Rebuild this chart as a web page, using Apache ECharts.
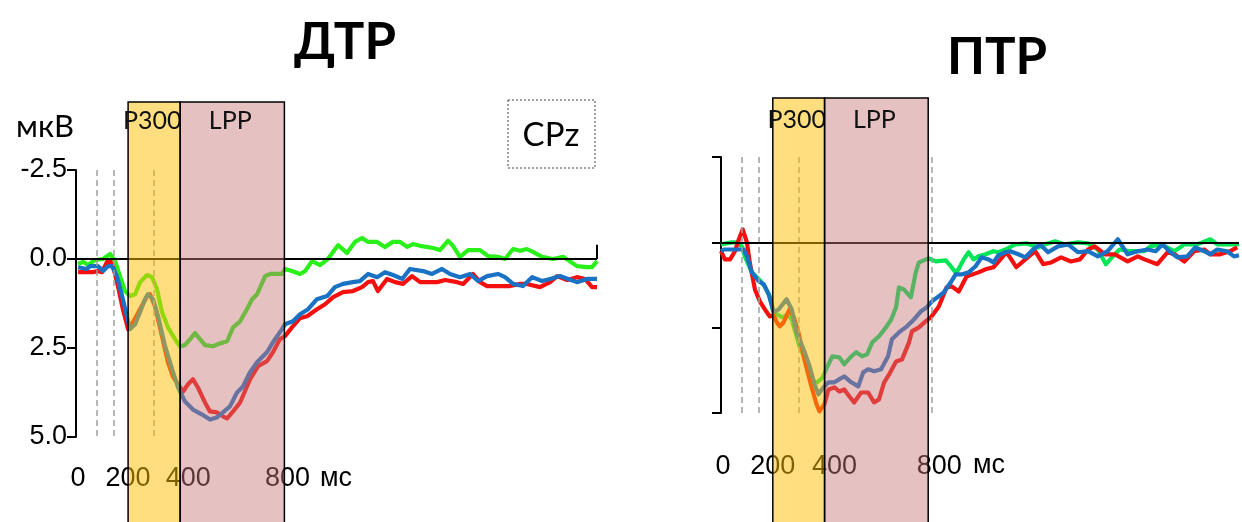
<!DOCTYPE html>
<html><head><meta charset="utf-8">
<script src="https://cdn.jsdelivr.net/npm/echarts@6/dist/echarts.min.js"></script>
<style>html,body{margin:0;padding:0;background:#fff}#c{width:1242px;height:522px}</style>
</head><body><div id="c"></div>
<script>
// ---- data (time in ms, amplitude in µV; negative plotted upward) ----
const panelTitles = ['ДТР', 'ПТР'];
const xTickLabels = [0, 200, 400, 800];
const yTickValues = [-2.5, 0, 2.5, 5];
const windowNames = ['P300', 'LPP'];
const windowFrom = [200, 400];
const windowTo = [400, 800];
const dashedLeft = [80, 145, 300];
const dashedRight = [80, 145, 300, 815];

const leftGreen = [[8,0.14],[27,0.08],[46,0.17],[73,0.03],[104,0.0],[131,-0.14],[150,0.06],[169,0.48],[188,0.90],[207,1.04],[227,0.99],[246,0.65],[273,0.45],[292,0.51],[311,0.85],[330,1.49],[353,1.92],[380,2.25],[399,2.45],[418,2.42],[438,2.25],[457,2.08],[476,2.25],[495,2.42],[526,2.45],[553,2.37],[580,2.31],[603,1.92],[630,1.75],[656,1.41],[676,1.13],[695,0.99],[726,0.48],[745,0.42],[791,0.42],[802,0.28],[829,0.34],[860,0.42],[879,0.34],[906,0.06],[937,0.17],[967,0.0],[1006,-0.39],[1040,-0.17],[1071,-0.48],[1098,-0.59],[1121,-0.48],[1156,-0.48],[1186,-0.34],[1217,-0.48],[1244,-0.48],[1271,-0.34],[1294,-0.42],[1321,-0.37],[1371,-0.31],[1397,-0.25],[1428,-0.51],[1447,-0.37],[1474,-0.06],[1505,-0.25],[1551,-0.25],[1582,-0.08],[1620,-0.06],[1647,0.0],[1678,-0.28],[1705,-0.23],[1731,-0.28],[1754,-0.20],[1789,-0.06],[1831,0.0],[1870,-0.06],[1889,0.03],[1923,0.20],[1962,0.23],[1981,0.23],[2000,0.06]];
const leftRed = [[8,0.37],[65,0.37],[84,0.34],[100,0.37],[119,0.08],[131,0.06],[142,0.20],[161,0.76],[180,1.41],[200,1.97],[219,1.77],[246,1.41],[273,1.04],[284,0.99],[303,1.32],[330,2.17],[353,2.90],[372,3.30],[392,3.52],[411,3.72],[430,3.52],[449,3.38],[468,3.61],[495,4.03],[514,4.28],[541,4.31],[564,4.42],[580,4.48],[603,4.28],[630,4.03],[668,3.38],[699,3.01],[733,2.87],[756,2.62],[783,2.25],[802,2.17],[829,1.92],[860,1.66],[887,1.61],[925,1.41],[956,1.27],[987,1.07],[1025,0.93],[1063,0.90],[1098,0.79],[1121,0.65],[1140,0.62],[1159,0.90],[1194,0.56],[1225,0.65],[1255,0.70],[1290,0.48],[1321,0.65],[1386,0.65],[1417,0.59],[1463,0.65],[1486,0.70],[1524,0.42],[1551,0.65],[1578,0.76],[1666,0.76],[1705,0.70],[1731,0.70],[1781,0.79],[1820,0.65],[1847,0.48],[1885,0.59],[1923,0.51],[1954,0.56],[1981,0.79],[2000,0.79]];
const leftBlue = [[8,0.23],[42,0.28],[54,0.20],[84,0.20],[104,0.34],[123,0.20],[138,0.20],[157,0.48],[177,1.04],[196,1.63],[207,1.97],[227,1.83],[246,1.49],[265,1.13],[276,0.99],[296,1.13],[315,1.61],[342,2.45],[369,3.10],[392,3.61],[418,4.00],[449,4.23],[484,4.37],[514,4.51],[541,4.45],[564,4.31],[591,4.14],[618,3.75],[641,3.58],[668,3.18],[695,2.90],[733,2.62],[756,2.34],[791,1.97],[802,1.83],[833,1.75],[860,1.55],[891,1.41],[925,1.13],[964,1.04],[994,0.79],[1025,0.70],[1063,0.65],[1090,0.62],[1121,0.42],[1156,0.51],[1186,0.37],[1217,0.45],[1252,0.56],[1282,0.28],[1332,0.34],[1367,0.42],[1405,0.28],[1436,0.42],[1474,0.51],[1513,0.42],[1543,0.62],[1578,0.48],[1620,0.42],[1647,0.51],[1678,0.70],[1716,0.76],[1751,0.51],[1789,0.62],[1820,0.56],[1858,0.48],[1889,0.56],[1923,0.65],[1962,0.56],[2000,0.56]];

const rightGreen = [[0,0.06],[42,0],[61,0],[81,0.12],[92,0.41],[119,0.88],[146,1.08],[169,1.29],[188,1.58],[203,2.05],[215,2.11],[238,2.2],[257,2.11],[273,2.26],[303,3.05],[334,3.57],[353,4.07],[372,4.1],[392,3.96],[411,3.63],[430,3.34],[457,3.37],[476,3.57],[503,3.34],[522,3.22],[545,3.34],[564,3.28],[584,2.93],[610,2.75],[637,2.49],[657,2.26],[676,1.9],[687,1.32],[706,1.38],[733,1.61],[752,0.88],[764,0.59],[783,0.53],[802,0.47],[829,0.56],[868,0.53],[887,0.7],[906,0.88],[917,0.79],[937,0.5],[956,0.29],[975,0.5],[994,0.41],[1021,0.35],[1052,0.26],[1071,0.29],[1098,0.21],[1136,0.06],[1179,0.03],[1225,0.15],[1251,0.06],[1290,-0.03],[1328,0.06],[1378,0],[1417,0.03],[1455,0.21],[1486,0.64],[1513,0.41],[1539,0.21],[1582,0.26],[1635,0.26],[1658,0.12],[1697,0.06],[1751,0.26],[1789,0.06],[1839,0.06],[1889,-0.09],[1916,0.06],[1966,0.06],[2000,0.06]];
const rightRed = [[0,0.26],[15,0.5],[35,0.5],[54,0.26],[69,-0.09],[84,-0.38],[100,0],[111,0.59],[131,1.38],[150,1.73],[169,1.96],[188,2.17],[203,2.14],[215,2.34],[227,2.46],[242,2.34],[265,1.96],[280,2.17],[299,2.64],[322,3.43],[349,4.22],[369,4.75],[380,4.95],[399,4.75],[415,4.31],[438,4.25],[457,4.37],[476,4.31],[495,4.51],[514,4.69],[541,4.4],[568,4.4],[591,4.69],[610,4.6],[630,4.1],[649,3.87],[676,3.49],[699,3.43],[726,2.93],[737,2.61],[764,2.49],[791,2.31],[810,2.2],[841,1.88],[871,1.32],[891,1.29],[918,1.44],[948,1.0],[994,0.88],[1021,0.79],[1052,0.73],[1079,0.5],[1102,0.29],[1121,0.5],[1140,0.73],[1175,0.5],[1213,0.26],[1244,0.64],[1275,0.59],[1313,0.44],[1351,0.56],[1386,0.5],[1417,0.21],[1443,0.12],[1482,0.35],[1520,0.35],[1570,0.56],[1609,0.41],[1635,0.5],[1685,0.64],[1724,0.29],[1751,0.35],[1789,0.56],[1827,0.26],[1866,0.21],[1889,0.35],[1927,0.35],[1966,0.26],[1993,0.15]];
const rightBlue = [[0,0.26],[12,0.21],[88,0.21],[100,0.41],[119,0.88],[146,1.14],[165,1.23],[184,1.52],[203,2.05],[223,1.96],[253,1.67],[273,1.96],[292,2.64],[319,3.14],[342,3.63],[361,4.16],[376,4.45],[395,4.25],[415,4.1],[438,4.1],[457,4.01],[476,3.93],[503,4.1],[530,4.22],[549,3.81],[568,3.72],[591,3.78],[618,3.72],[645,3.34],[660,2.84],[687,2.64],[718,2.46],[745,2.26],[772,2.02],[795,1.9],[814,1.73],[841,1.58],[860,1.47],[887,1.17],[906,0.94],[929,0.94],[956,0.88],[983,0.7],[1006,0.44],[1033,0.5],[1052,0.59],[1071,0.38],[1098,0.29],[1117,0.26],[1148,0.35],[1175,0.44],[1205,0.21],[1232,0.06],[1263,0.29],[1301,0.12],[1340,0.06],[1378,0.29],[1417,0.26],[1455,0.41],[1493,0.26],[1532,-0.09],[1570,0.35],[1609,0.26],[1647,0.21],[1678,0.26],[1705,0.06],[1731,0.26],[1762,0.44],[1800,0.41],[1831,0.15],[1866,0.26],[1889,0.35],[1916,0.21],[1954,0.26],[1981,0.41],[2000,0.38]];

// ---- styling / layout ----
const NUM_FONT = '"Liberation Sans", Arial, sans-serif';
const TXT_FONT = 'Lato, "Open Sans", sans-serif';
const GREEN_L = '#2af01a', GREEN_R = '#00e656', RED = '#f51010', BLUE = '#1a72c4';
const bandFill = ['rgba(255,190,0,0.5)', 'rgba(200,118,118,0.45)'];

const panels = [
  {grid:{left:76, top:170, width:521, height:267}, labelMargin:28, shifts:{0:4,400:16,800:6}, showY:true,
   bandTop:102, labelY:121, unitX:336, unitY:479, dashed:dashedLeft, endTick:true,
   series:[[leftGreen,GREEN_L],[leftRed,RED],[leftBlue,BLUE]]},
  {grid:{left:721, top:157, width:521, height:256}, labelMargin:40, shifts:{0:4,400:20,800:22}, showY:false,
   bandTop:98, labelY:120, unitX:989, unitY:466, dashed:dashedRight, endTick:false,
   series:[[rightGreen,GREEN_R],[rightRed,RED],[rightBlue,BLUE]]}
];

const grid = [], xAxis = [], yAxis = [], series = [];
const graphic = [];
panels.forEach((p, i) => {
  grid.push(p.grid);
  const rich = {};
  xTickLabels.forEach(v => {
    rich['t' + v] = {fontSize:27, fontFamily:NUM_FONT, color:'#000', padding:[0,0,0,p.shifts[v] || 0]};
  });
  xAxis.push({
    type:'value', gridIndex:i, min:0, max:2000, interval:200,
    axisLine:{show:false, onZero:false}, axisTick:{show:false}, splitLine:{show:false},
    axisLabel:{margin:p.labelMargin, fontSize:27, fontFamily:NUM_FONT, color:'#000',
      formatter: v => xTickLabels.indexOf(v) >= 0 ? '{t' + v + '|' + v + '}' : '', rich: rich}
  });
  yAxis.push({
    type:'value', gridIndex:i, inverse:true, min:-2.5, max:5, interval:2.5,
    axisLine:{show:true, onZero:false, lineStyle:{color:'#000', width:2}},
    axisTick:{show:true, length:9, lineStyle:{color:'#000', width:2}},
    splitLine:{show:false},
    axisLabel:{show:p.showY, margin:9, fontSize:27, fontFamily:NUM_FONT, color:'#000',
      formatter: v => v.toFixed(1)}
  });
  graphic.push({type:'text', x:p.unitX, y:p.unitY, z:0, style:{text:'мс', font:'27px ' + NUM_FONT, fill:'#000',
    align:'center', verticalAlign:'middle', textAlign:'center', textVerticalAlign:'middle'}});
  const mlData = p.dashed.map(t => ({xAxis:t, lineStyle:{color:'#a0a0a0', type:[6,4], width:1.5}}));
  mlData.push({yAxis:0, lineStyle:{color:'#000', type:'solid', width:2}});
  if (p.endTick) mlData.push([{coord:[2000,0]},{coord:[2000,-0.4], lineStyle:{color:'#000', type:'solid', width:2}}]);
  series.push({
    type:'line', xAxisIndex:i, yAxisIndex:i, data:[], z:1, silent:true,
    markLine:{silent:true, symbol:'none', label:{show:false}, animation:false, data:mlData}
  });
  p.series.forEach(([d, c]) => {
    series.push({type:'line', xAxisIndex:i, yAxisIndex:i, data:d, z:2, symbol:'none', silent:true,
      lineStyle:{color:c, width:4.2, join:'round'}, itemStyle:{color:c}});
  });
  series.push({
    type:'custom', xAxisIndex:i, yAxisIndex:i, z:5, silent:true, clip:false,
    data: windowFrom.map((f, k) => [f, windowTo[k]]),
    renderItem: (params, api) => {
      const x0 = api.coord([api.value(0), 0])[0];
      const x1 = api.coord([api.value(1), 0])[0];
      const k = params.dataIndex;
      return {type:'group', children:[
        {type:'rect', shape:{x:x0, y:p.bandTop, width:x1 - x0, height:540 - p.bandTop},
         style:{fill:bandFill[k], stroke:'#000', lineWidth:1.5}},
        {type:'text', style:{text:windowNames[k], x:(x0 + x1) / 2 - 2, y:p.labelY,
          align:'center', verticalAlign:'middle', textAlign:'center', textVerticalAlign:'middle',
          font:'25px ' + TXT_FONT, fill:'#111'}}
      ]};
    }
  });
});

graphic.push(
  {type:'text', x:345, y:43, style:{text:panelTitles[0], font:'bold 51px ' + TXT_FONT, fill:'#000', align:'center', verticalAlign:'middle', textAlign:'center', textVerticalAlign:'middle'}},
  {type:'text', x:997, y:58, style:{text:panelTitles[1], font:'bold 51px ' + TXT_FONT, fill:'#000', align:'center', verticalAlign:'middle', textAlign:'center', textVerticalAlign:'middle'}},
  {type:'text', x:45, y:127, style:{text:'мкВ', font:'31px ' + TXT_FONT, fill:'#000', align:'center', verticalAlign:'middle', textAlign:'center', textVerticalAlign:'middle'}},
  {type:'rect', shape:{x:508, y:100, width:87, height:68}, style:{fill:'#fff', stroke:'#444', lineWidth:1, lineDash:[2,2]}},
  {type:'text', x:551, y:135, style:{text:'CPz', font:'33px ' + TXT_FONT, fill:'#000', align:'center', verticalAlign:'middle', textAlign:'center', textVerticalAlign:'middle'}}
);

const chart = echarts.init(document.getElementById('c'), null, {renderer:'canvas'});
chart.setOption({animation:false, backgroundColor:'#fff', grid, xAxis, yAxis, series, graphic});
</script></body></html>
